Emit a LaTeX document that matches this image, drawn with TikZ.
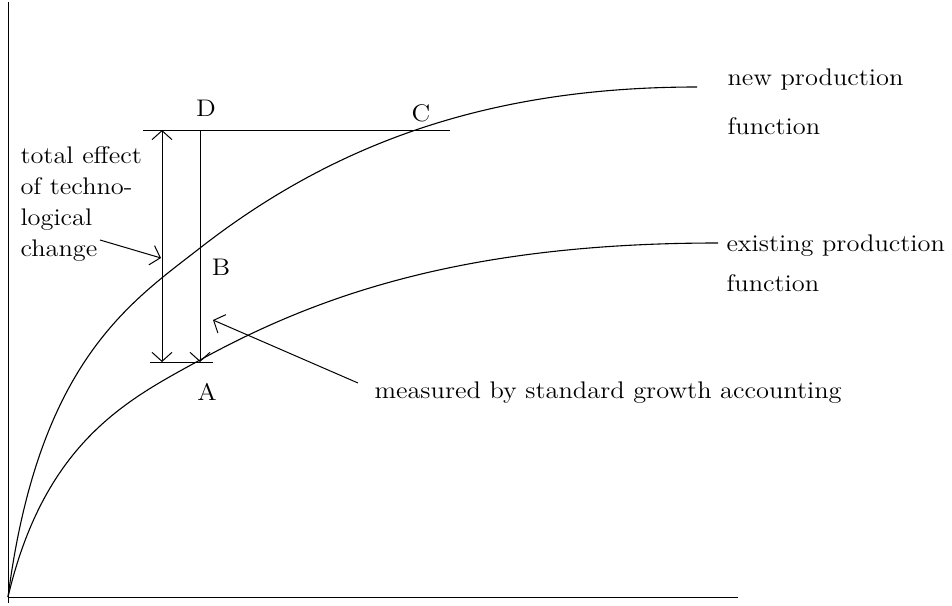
\documentclass[tikz,border=0pt]{standalone}
\usepackage{fontspec}
\setmainfont{Latin Modern Roman}[FakeStretch=1.1]
\usetikzlibrary{arrows.meta}
\begin{document}
\begin{tikzpicture}[x=0.5pt,y=-0.5pt,line width=0.5pt,
  lbl/.style={font=\fontsize{12}{14}\selectfont,inner sep=0pt},
  barb/.style={-{Straight Barb[length=4.5pt,width=10pt]}},
  dbarb/.style={{Straight Barb[length=4.5pt,width=10pt]}-{Straight Barb[length=4.5pt,width=10pt]}},
  curve/.style={line width=0.55pt}]
\useasboundingbox (0,0) rectangle (952,605);
% axes
\coordinate (O) at (8,597);
\coordinate (ytop) at (8,2);
\coordinate (ybot) at (8,603);
\coordinate (xend) at (738,597);
\draw (ybot) -- (ytop);
\draw (O) -- (xend);
% production functions
\coordinate (newM) at (200,248);
\coordinate (newE) at (697,87);
\coordinate (exM) at (200,360);
\coordinate (exE) at (718,243);
\draw[curve] (O) .. controls (38.5,362) and (130,302.6) .. (newM)
  .. controls (340,138.8) and (497,87) .. (newE);
\draw[curve] (O) .. controls (45,440) and (130,398.5) .. (exM)
  .. controls (320,294) and (468,243) .. (exE);
% construction lines
\coordinate (topL) at (143,130);
\coordinate (topR) at (450,130);
\coordinate (botL) at (150,362);
\coordinate (botR) at (213,362);
\coordinate (v1t) at (162,130);
\coordinate (v1b) at (162,362);
\coordinate (v2t) at (200,130);
\coordinate (v2b) at (200,362);
\draw (topL) -- (topR);
\draw (botL) -- (botR);
\draw[dbarb] (v1t) -- (v1b);
\draw[barb] (v2t) -- (v2b);
% labels
\node[lbl] (D) at (206,108) {D};
\node[lbl] (C) at (421,113) {C};
\node[lbl] (B) at (221,267) {B};
\node[lbl] (A) at (207,392) {A};
\node[lbl,anchor=north west,align=left,font=\fontsize{12}{15.5}\selectfont] (tot) at (20,146) {total effect\\of techno-\\logical\\change};
\node[lbl,anchor=west,align=left,font=\fontsize{12}{24.5}\selectfont] (newpf) at (727,102) {new production\\function};
\node[lbl,anchor=west,align=left,font=\fontsize{12}{20}\selectfont] (expf) at (726,263) {existing production\\function};
\node[lbl,anchor=west] (meas) at (374,393) {measured by standard growth accounting};
% pointer arrows
\coordinate (totS) at (100,240);
\coordinate (totE) at (161,258);
\coordinate (measS) at (358,383);
\coordinate (measE) at (213,320);
\draw[barb] (totS) -- (totE);
\draw[barb] (measS) -- (measE);
\end{tikzpicture}
\end{document}
